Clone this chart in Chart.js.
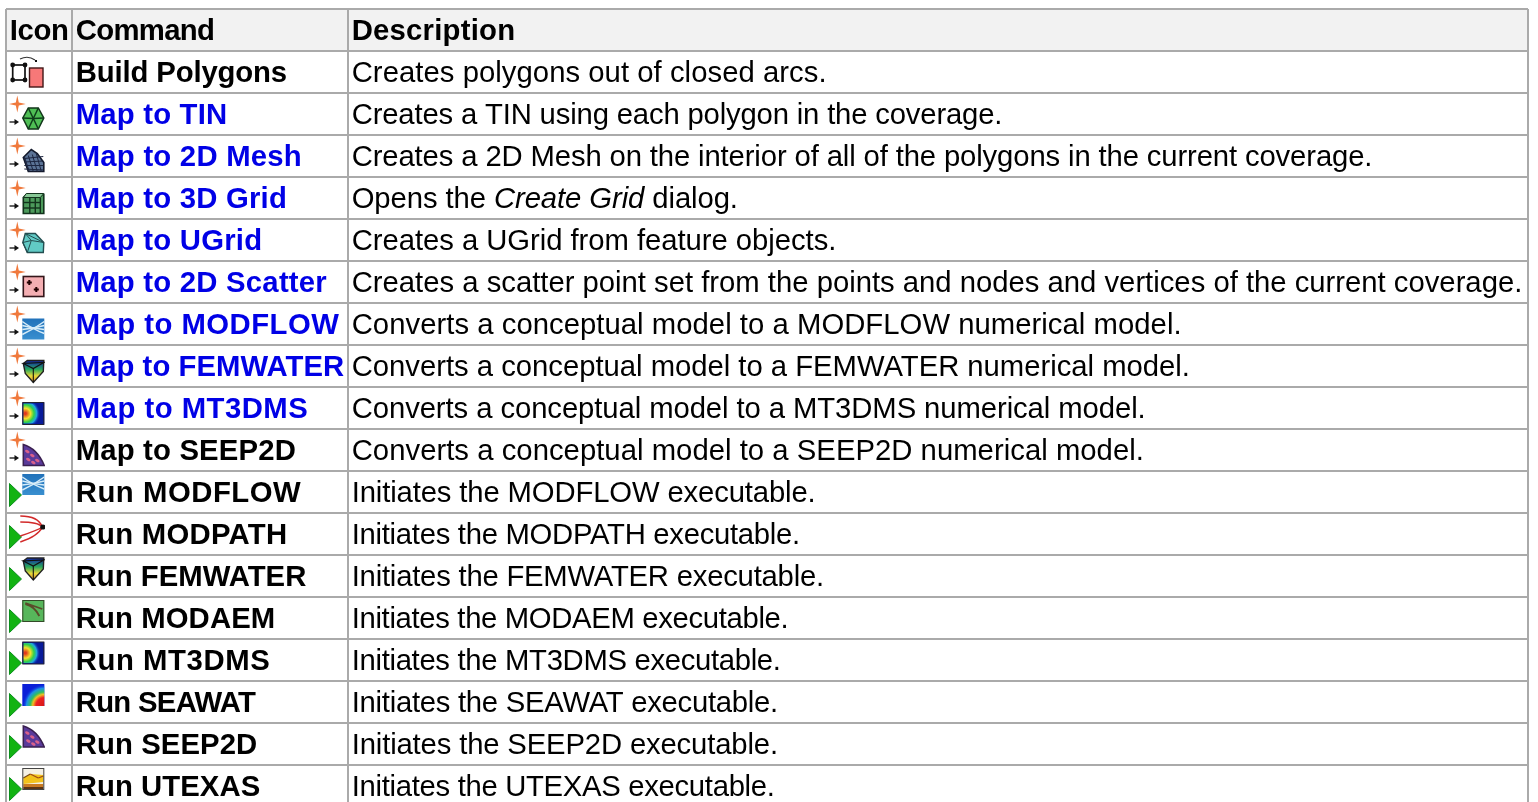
<!DOCTYPE html>
<html><head><meta charset="utf-8">
<style>html,body{margin:0;padding:0;background:#fff;overflow:hidden;width:1538px;height:802px}canvas{display:block}</style>
<script src="https://cdn.jsdelivr.net/npm/chart.js@4/dist/chart.umd.min.js"></script>
</head><body><canvas id="c" width="1538" height="808"></canvas>
<script>
const headers = ["Icon", "Command", "Description"];
const commands = ["Build Polygons","Map to TIN","Map to 2D Mesh","Map to 3D Grid","Map to UGrid","Map to 2D Scatter","Map to MODFLOW","Map to FEMWATER","Map to MT3DMS","Map to SEEP2D","Run MODFLOW","Run MODPATH","Run FEMWATER","Run MODAEM","Run MT3DMS","Run SEAWAT","Run SEEP2D","Run UTEXAS"];
const descriptions = ["Creates polygons out of closed arcs.","Creates a TIN using each polygon in the coverage.","Creates a 2D Mesh on the interior of all of the polygons in the current coverage.","Opens the *Create Grid* dialog.","Creates a UGrid from feature objects.","Creates a scatter point set from the points and nodes and vertices of the current coverage.","Converts a conceptual model to a MODFLOW numerical model.","Converts a conceptual model to a FEMWATER numerical model.","Converts a conceptual model to a MT3DMS numerical model.","Converts a conceptual model to a SEEP2D numerical model.","Initiates the MODFLOW executable.","Initiates the MODPATH executable.","Initiates the FEMWATER executable.","Initiates the MODAEM executable.","Initiates the MT3DMS executable.","Initiates the SEAWAT executable.","Initiates the SEEP2D executable.","Initiates the UTEXAS executable."];
const linked = [0,1,1,1,1,1,1,1,1,0,0,0,0,0,0,0,0,0];
const glyphs = ["poly","tin","mesh","grid","ugrid","scatter","flow","fem","mt3d","seep","flow","path","fem","aem","mt3d","seawat","seep","utexas"];
const actions = ["none","map","map","map","map","map","map","map","map","map","run","run","run","run","run","run","run","run"];
const columnEdges = [0,66,342,1522];
// where each string ends, used only to fit letter spacing to the reference's hinted text
const headerEnds = [68.3,214,515];
const commandEnds = [286.7,227,301.7,286.7,262,326.7,339,344,308,295.7,301,287,306,275,270,255,257,260];
const descriptionEnds = [826,1001.7,1371.7,737.3,835.7,1521.7,1181,1189.3,1145,1143.3,815,799.3,823.3,787.7,780,777.3,777.3,774];

function star(g,x,y){g.fillStyle='#f0793c';g.beginPath();
  const r=8.5,q=2.1;for(let i=0;i<8;i++){const a=i*Math.PI/4-Math.PI/2,d=i%2?q:r;g.lineTo(x+d*Math.cos(a),y+d*Math.sin(a));}
  g.closePath();g.fill();}
function arrow(g,y){g.strokeStyle='#222';g.lineWidth=1.4;g.beginPath();g.moveTo(.5,y);g.lineTo(7,y);g.stroke();
  g.fillStyle='#111';g.beginPath();g.moveTo(10,y);g.lineTo(5.5,y-3);g.lineTo(5.5,y+3);g.closePath();g.fill();}
function runTri(g){g.fillStyle='#12b312';g.strokeStyle='#0b8f1d';g.lineWidth=1;g.beginPath();g.moveTo(.5,11.5);g.lineTo(12.5,23);g.lineTo(.5,34.5);g.closePath();g.fill();g.stroke();}
function path(g,p,fill,stroke,w){g.beginPath();p.forEach((q,i)=>i?g.lineTo(q[0],q[1]):g.moveTo(q[0],q[1]));g.closePath();if(fill){g.fillStyle=fill;g.fill();}if(stroke){g.strokeStyle=stroke;g.lineWidth=w||1;g.stroke();}}
function line(g,a,b,c,d,col,w){g.strokeStyle=col;g.lineWidth=w||1;g.beginPath();g.moveTo(a,b);g.lineTo(c,d);g.stroke();}

const glyphDraw = {
  tin(g){const h=[[6,1.5],[16,1.5],[21.5,11.5],[16,22.5],[6,22.5],[.5,11.5]];path(g,h,'#4fbf55','#12351a',1.5);
    h.forEach(q=>line(g,q[0],q[1],11,12,'#0e3d1a',1.5));},
  mesh(g){const p=[[1,9],[9,1],[15,5],[21.5,14],[21.5,23],[6,23]];path(g,p,'#5b7396','#141a2c',1.6);
    for(let i=0;i<4;i++){line(g,2+i*4,8-i,7+i*4,23,'#1c2540',1);line(g,2,10+i*3.5,21,8+i*4.5,'#1c2540',1);}},
  grid(g){path(g,[[4,4],[21.5,4],[21.5,23],[1,23],[1,7]],'#4c9a5b','#12331c',1.6);path(g,[[1,7],[4,3],[21.5,3],[18,7]],'#87c795','#12331c',1);
    line(g,7.5,7,7.5,23,'#12331c',1.4);line(g,13,7,13,23,'#12331c',1.4);line(g,18,7,18,23,'#12331c',1.4);line(g,1,12,18,12,'#12331c',1.4);line(g,1,17.5,18,17.5,'#12331c',1.4);},
  ugrid(g){const p=[[3,1],[13,1],[21.5,10],[21,20],[5,20],[.5,10]];path(g,p,'#61cac5','#234e50',1.4);path(g,[[3,1],[9,8],[21.5,10]],null,'#234e50',1);path(g,[[.5,10],[9,8],[5,20]],null,'#234e50',1);},
  scatter(g){g.fillStyle='#f4aeb2';g.fillRect(1,2,20.5,20);g.strokeStyle='#33161a';g.lineWidth=1.6;g.strokeRect(1,2,20.5,20);
    [[7,8],[14,15]].forEach(([x,y])=>{g.fillStyle='#200';g.fillRect(x-2.5,y-1,5,2);g.fillRect(x-1,y-2.5,2,5);});},
  flow(g){const b=g.createLinearGradient(0,0,0,24);b.addColorStop(0,'#1f6fb8');b.addColorStop(1,'#3a90d0');g.fillStyle=b;g.fillRect(0,2,22,21);
    g.strokeStyle='#d7ecf8';g.lineWidth=1.5;[[5,13,17],[9,12,13],[13,12,9],[18,13,5]].forEach(([a,m,e])=>{g.beginPath();g.moveTo(0,a);g.quadraticCurveTo(11,m,22,e);g.stroke();});},
  fem(g){const b=g.createLinearGradient(0,2,0,24);b.addColorStop(0,'#1420b0');b.addColorStop(.4,'#27a85b');b.addColorStop(.7,'#e8d83a');b.addColorStop(1,'#d98a2a');
    path(g,[[1,5],[5,2],[21.5,2],[21,13],[11,24],[3,15]],b,'#222',1.4);path(g,[[1,5],[11,10],[21.5,4]],null,'#111',1.2);line(g,11,10,11,24,'#111',1.1);},
  mt3d(g){g.fillStyle='#081a9a';g.fillRect(0,2,22,22);const r=g.createRadialGradient(3,13,1,3,13,15);r.addColorStop(0,'#e23a1c');r.addColorStop(.3,'#f5e12c');r.addColorStop(.55,'#2fd04a');r.addColorStop(.75,'#1fa9e0');r.addColorStop(1,'rgba(10,30,190,0)');g.fillStyle=r;g.fillRect(1,3,20,20);g.strokeStyle='#223';g.lineWidth=1;g.strokeRect(.5,2,21,22);},
  seep(g){g.beginPath();g.moveTo(1,2);g.quadraticCurveTo(15,6,22,23);g.lineTo(1,23);g.closePath();g.fillStyle='#5a3a9a';g.fill();g.strokeStyle='#3a2050';g.lineWidth=1.5;g.stroke();
    g.fillStyle='#d9608a';[[5,9],[10,13],[15,18],[6,17],[11,20]].forEach(([x,y])=>{g.beginPath();g.ellipse(x,y,2.4,1.5,.5,0,7);g.fill();});},
  path(g){g.strokeStyle='#d22a2a';g.lineWidth=1.5;[[0,0,19],[0,6,18],[0,20,16],[0,26,14]].forEach(([x,y,e],i)=>{g.beginPath();g.moveTo(x-2,y+2);g.quadraticCurveTo(16,[2,8,16,22][i],20,13);g.stroke();});g.fillStyle='#111';g.beginPath();g.arc(20.5,13,2.6,0,7);g.fill();},
  aem(g){g.fillStyle='#57b65b';g.fillRect(0,2,22,22);g.strokeStyle='#334a28';g.lineWidth=1;g.strokeRect(.5,2.5,21,21);g.strokeStyle='#5a4a2a';g.lineWidth=1.8;g.beginPath();g.moveTo(3,6);g.quadraticCurveTo(12,8,17,18);g.moveTo(3,5);g.lineTo(20,11);g.stroke();},
  seawat(g){g.fillStyle='#0a1ed8';g.fillRect(0,2,22,22);const r=g.createRadialGradient(22,24,1,22,24,22);r.addColorStop(0,'#d81818');r.addColorStop(.35,'#e22');r.addColorStop(.5,'#f0c020');r.addColorStop(.62,'#2fc060');r.addColorStop(.8,'#1e90e8');r.addColorStop(1,'rgba(10,30,216,0)');g.fillStyle=r;g.fillRect(0,2,22,22);},
  utexas(g){g.fillStyle='#f4f0e4';g.fillRect(0,2,22,22);path(g,[[1,12],[8,8],[21,9],[21,16],[1,18]],'#f2c21c');line(g,1,12,8,8,'#7a4a14',1.3);line(g,8,8,16,12,'#a04a14',1.3);line(g,16,12,21,10,'#a04a14',1.3);g.fillStyle='#c97a22';g.fillRect(1,18,20,3);g.fillStyle='#5a3414';g.fillRect(1,21,20,3);g.strokeStyle='#444';g.lineWidth=1;g.strokeRect(.5,2.5,21,21);}
};
function makeIcon(kind,action){
  const c=document.createElement('canvas');c.width=36;c.height=40;const g=c.getContext('2d');
  if(kind==='poly'){
    g.strokeStyle='#111';g.lineWidth=1.7;g.strokeRect(3.7,13,12.3,15);
    g.fillStyle='#111';[[3.7,13],[16,13],[3.7,28],[16,28]].forEach(([x,y])=>{g.beginPath();g.arc(x,y,2.4,0,7);g.fill();});
    g.lineWidth=1.1;g.strokeStyle='#333';g.beginPath();g.moveTo(11,7);g.quadraticCurveTo(19,3,26,8);g.stroke();
    g.fillStyle='#111';g.fillRect(26,8,2,2);
    g.fillStyle='#f77878';g.fillRect(20.5,16,13.5,19);g.strokeStyle='#401616';g.lineWidth=1.4;g.strokeRect(20.5,16,13.5,19);
  } else {
    if(action==='map'){star(g,8.3,10);arrow(g,28);g.translate(13.3,12.5);}
    else{runTri(g);g.translate(13.3,0);}
    glyphDraw[kind](g);
  }
  const soft=document.createElement('canvas');soft.width=36;soft.height=40;const s=soft.getContext('2d');
  s.filter='blur(0.45px)';s.drawImage(c,0,0);
  return soft;
}
const icons = glyphs.map((k,i)=>makeIcon(k,actions[i]));

function fitted(ctx,text,x,end,bearing){
  ctx.letterSpacing='0px';
  const w=text.replace(/\*/g,'');
  const segs=text.split('*');
  const base=ctx.font;
  let total=0;
  segs.forEach((s,j)=>{ctx.font=(j%2?'italic ':'')+base;total+=ctx.measureText(s).width;});
  return (end-x+bearing-total)/Math.max(1,w.length);
}
const tablePlugin = {
  id:'tableText',
  beforeDraw(ch){
    const {ctx,scales:{x,y}}=ch;
    ctx.save();ctx.fillStyle='#f2f2f2';
    ctx.fillRect(x.left,y.getPixelForValue(0),x.right-x.left,y.getPixelForValue(1)-y.getPixelForValue(0));
    ctx.restore();
  },
  afterDraw(ch){
    const {ctx,scales:{x,y}}=ch;
    ctx.save();ctx.textBaseline='alphabetic';ctx.textAlign='left';ctx.filter='blur(0.3px)';
    const col=i=>x.getPixelForValue(columnEdges[i]);
    const base=r=>y.getPixelForValue(r+.5)+10;
    const BOLD='bold 29.3px "Liberation Sans"',REG='29.25px "Liberation Sans"';
    const bold=(t,px,py,end,color)=>{ctx.font=BOLD;ctx.fillStyle=color;const sp=fitted(ctx,t,px,end,.3);ctx.font=BOLD;ctx.letterSpacing=sp+'px';ctx.fillText(t,px,py);};
    headers.forEach((h,i)=>bold(h,col(i)+3.7,base(0),headerEnds[i],'#000'));
    commands.forEach((t,i)=>bold(t,col(1)+3.7,base(i+1),commandEnds[i],linked[i]?'#0000e6':'#000'));
    descriptions.forEach((t,i)=>{
      let px=col(2)+3.7;ctx.fillStyle='#000';
      ctx.font=REG;const sp=fitted(ctx,t,px,descriptionEnds[i],.6);ctx.letterSpacing=sp+'px';
      t.split('*').forEach((s,j)=>{ctx.font=(j%2?'italic ':'')+REG;ctx.fillText(s,px,base(i+1));px+=ctx.measureText(s).width;});
    });
    ctx.restore();
  }
};
new Chart(document.getElementById('c'),{
  type:'scatter',
  data:{datasets:[{label:'Icon',data:commands.map((_,i)=>({x:(columnEdges[0]+columnEdges[1])/2-12,y:i+1.5})),pointStyle:icons,pointRadius:18,pointHoverRadius:18}]},
  plugins:[tablePlugin],
  options:{responsive:false,animation:false,
    layout:{autoPadding:false,padding:{left:6,top:9,right:10,bottom:1}},
    plugins:{legend:{display:false},tooltip:{enabled:false}},
    scales:{
      x:{type:'linear',position:'top',min:0,max:1522,afterBuildTicks(s){s.ticks=columnEdges.map(v=>({value:v}));},
         ticks:{display:false},grid:{color:'#aaaaaa',lineWidth:2,drawTicks:false},border:{display:false}},
      y:{type:'linear',reverse:true,min:0,max:19,ticks:{display:false,stepSize:1,autoSkip:false},grid:{color:'#aaaaaa',lineWidth:2,drawTicks:false},border:{display:false}}
    }}
});
</script></body></html>
